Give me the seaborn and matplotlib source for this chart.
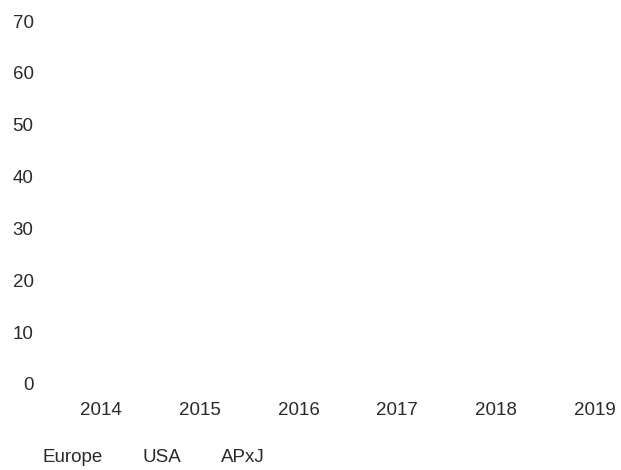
import numpy as np
import pandas as pd
import matplotlib
matplotlib.use("Agg")
import matplotlib.pyplot as plt
from matplotlib.lines import Line2D
import seaborn as sns

years = [2014, 2015, 2016, 2017, 2018, 2019]
series_names = ["Europe", "USA", "APxJ"]
# No marks are visible in the reference: values are empty.
europe = [np.nan] * 6
usa = [np.nan] * 6
apxj = [np.nan] * 6
y_ticks = [0, 10, 20, 30, 40, 50, 60, 70]

sns.set_theme(style="white")
plt.rcParams["font.family"] = ["Liberation Sans", "DejaVu Sans"]
TXT = "#2a2a2a"
FS = 13.5

df = pd.DataFrame({
    "year": years * 3,
    "value": europe + usa + apxj,
    "region": sum([[n] * 6 for n in series_names], []),
})

fig = plt.figure(figsize=(6.21, 4.70), dpi=100)
ax = fig.add_axes([51.6 / 621, 1 - 384 / 470, (614.8 - 51.6) / 621, (384 - 21) / 470])
sns.lineplot(data=df.dropna(), x="year", y="value", hue="region",
             hue_order=series_names, ax=ax, legend=False)

ax.set_xlim(2013.5, 2019.2)
ax.set_ylim(0, 70)
ax.set_xticks(years)
ax.set_xticklabels([str(y) for y in years])
ax.set_yticks(y_ticks)
ax.set_yticklabels([str(v) for v in y_ticks])
ax.set_xlabel("")
ax.set_ylabel("")
for s in ax.spines.values():
    s.set_visible(False)
ax.grid(False)
ax.tick_params(axis="both", length=0, labelsize=FS, labelcolor=TXT)
ax.tick_params(axis="y", pad=13)
ax.tick_params(axis="x", pad=13)

handles = [Line2D([], [], linestyle="none") for _ in series_names]
fig.legend(handles, series_names, loc="center left",
           bbox_to_anchor=(43 / 621, 1 - 457 / 470), ncol=3, frameon=False,
           handlelength=0, handletextpad=0, columnspacing=2.1,
           borderpad=0, borderaxespad=0, fontsize=FS, labelcolor=TXT)

fig.savefig("out.png", dpi=100)
